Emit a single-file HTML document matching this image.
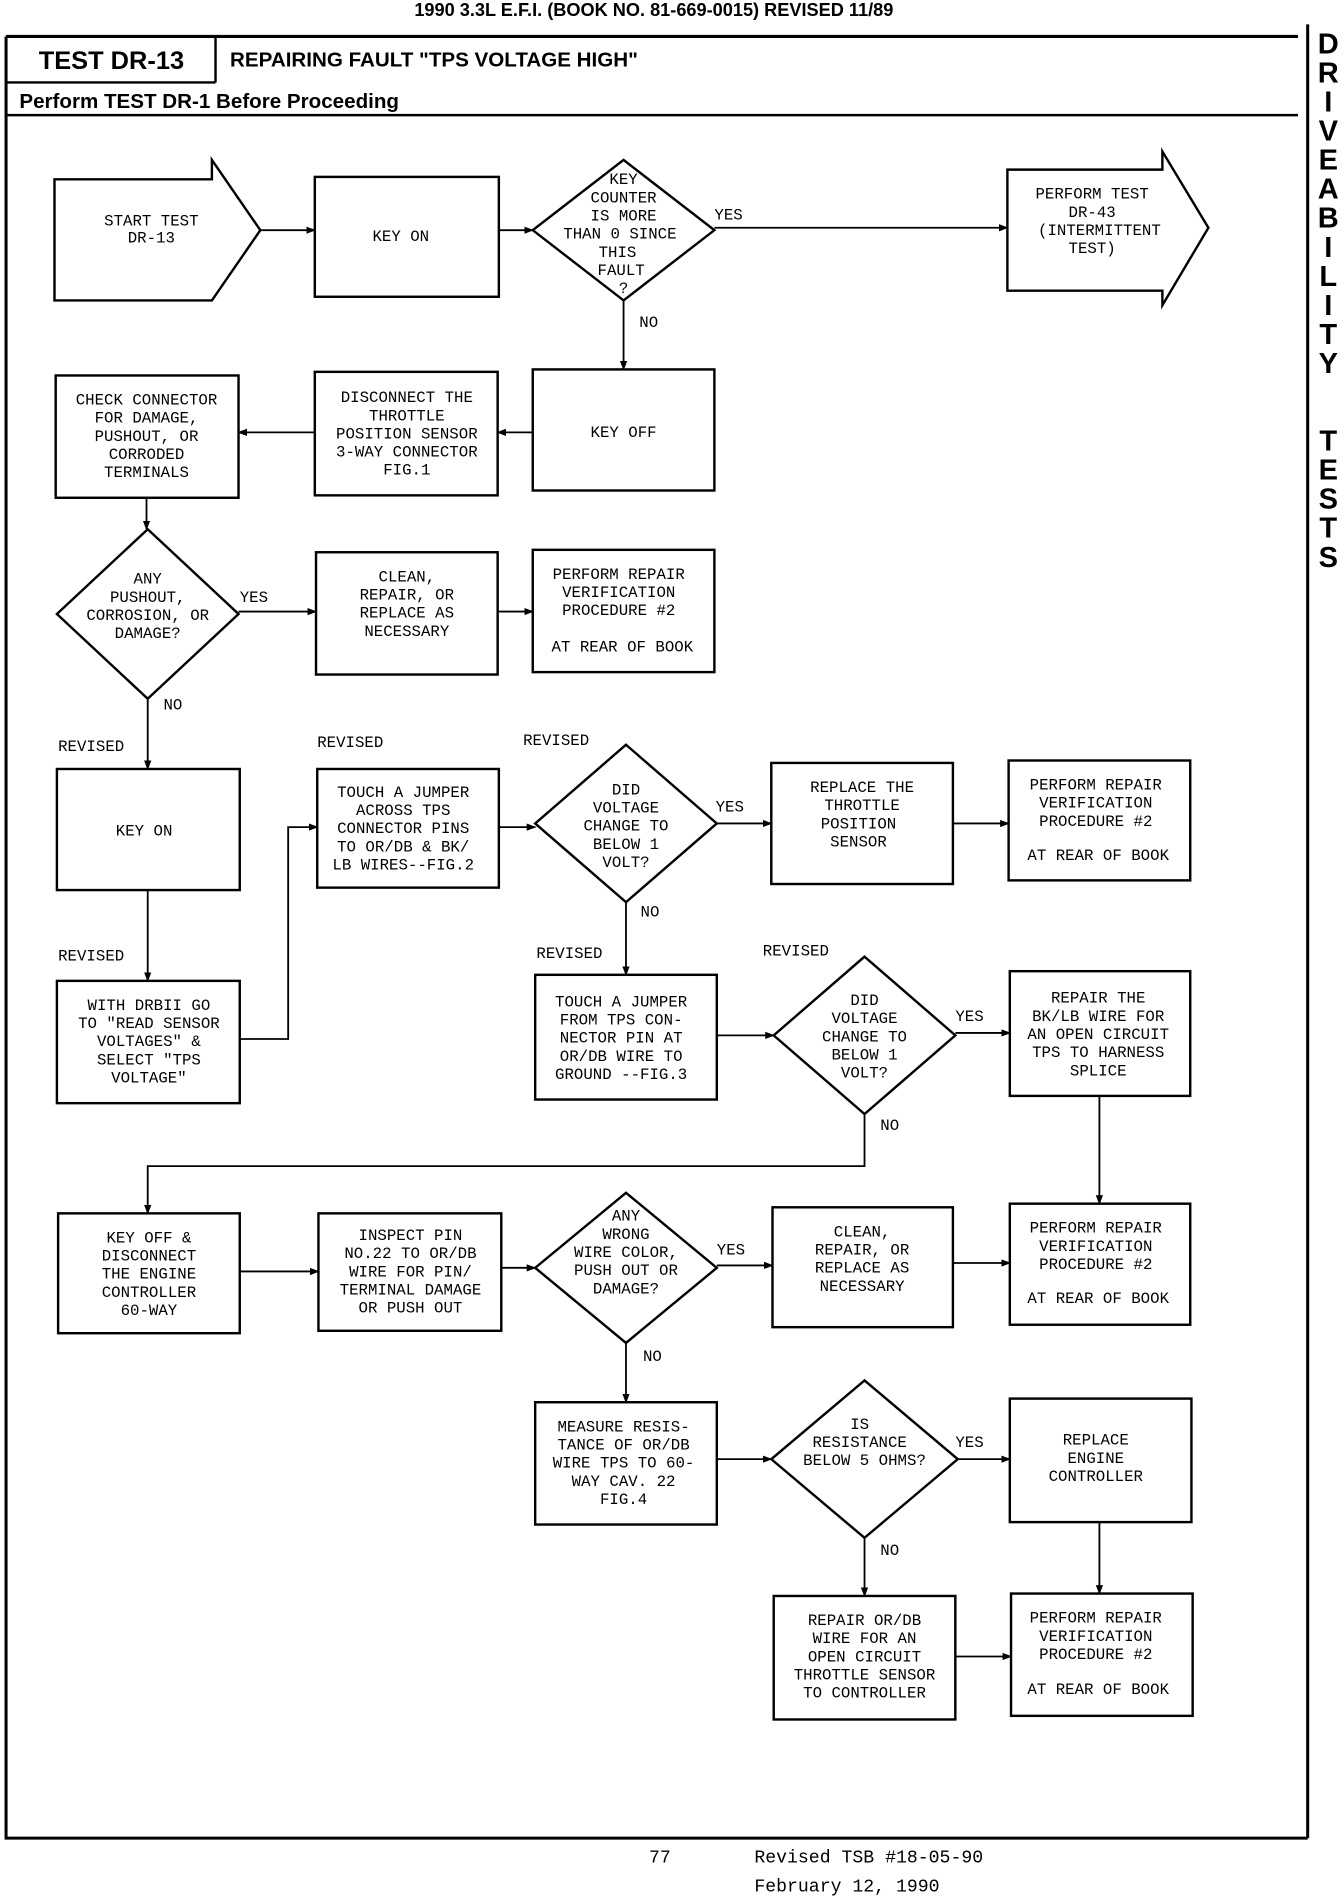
<!DOCTYPE html>
<html><head><meta charset="utf-8"><style>
html,body{margin:0;padding:0;background:#fff;}
svg{display:block;}
.n{font-family:"Liberation Mono",monospace;font-size:13px;fill:#000;}
.h{font-family:"Liberation Sans",sans-serif;fill:#000;}
</style></head><body>
<svg width="1344" height="1900" viewBox="0 0 1110 1569" xmlns="http://www.w3.org/2000/svg">
<defs><marker id="a" markerWidth="8" markerHeight="8" refX="7" refY="4" orient="auto" markerUnits="userSpaceOnUse"><path d="M0,1 L8,4 L0,7 Z" fill="#000"/></marker></defs>
<g fill="none" stroke="#000" stroke-width="2">
<path d="M5,30 H1072 M5,30 V1518 H1080 M1080,20 V1518" stroke-width="2.5"/>
<path d="M178,30 V68 M5,68 H178 M5,95 H1072"/>
</g>
<text class="h" x="540" y="13" font-size="15" text-anchor="middle" font-weight="bold">1990 3.3L E.F.I.  (BOOK NO. 81-669-0015)  REVISED 11/89</text>
<text class="h" x="92" y="57" font-size="21" text-anchor="middle" font-weight="bold">TEST DR-13</text>
<text class="h" x="190" y="55" font-size="17" font-weight="bold">REPAIRING FAULT "TPS VOLTAGE HIGH"</text>
<text class="h" x="16" y="89" font-size="17" font-weight="bold">Perform TEST DR-1 Before Proceeding</text>
<g class="h" font-size="24" font-weight="bold" text-anchor="middle">
<text x="1097" y="44">D</text><text x="1097" y="68">R</text><text x="1097" y="92">I</text><text x="1097" y="116">V</text><text x="1097" y="140">E</text><text x="1097" y="164">A</text><text x="1097" y="188">B</text><text x="1097" y="212">I</text><text x="1097" y="236">L</text><text x="1097" y="260">I</text><text x="1097" y="284">T</text><text x="1097" y="308">Y</text>
<text x="1097" y="372">T</text><text x="1097" y="396">E</text><text x="1097" y="420">S</text><text x="1097" y="444">T</text><text x="1097" y="468">S</text>
</g>
<g fill="none" stroke="#000" stroke-width="2">
<path d="M45,148 H175 V132 L215,190 L175,248 H45 Z"/>
<path d="M832,140 H960 V125 L998,188 L960,252 V240 H832 Z"/>
<rect x="260" y="146" width="152" height="99"/>
<path d="M515,132 L590,190 L515,248 L440,190 Z"/>
<rect x="440" y="305" width="150" height="100"/>
<rect x="260" y="307" width="151" height="102"/>
<rect x="46" y="310" width="151" height="101"/>
<path d="M122,437 L197,507 L122,577 L47,507 Z"/>
<rect x="261" y="456" width="150" height="101"/>
<rect x="440" y="454" width="150" height="101"/>
<rect x="47" y="635" width="151" height="100"/>
<rect x="47" y="810" width="151" height="101"/>
<rect x="262" y="635" width="150" height="98"/>
<path d="M517,615 L592,680 L517,745 L442,680 Z"/>
<rect x="637" y="630" width="150" height="100"/>
<rect x="833" y="628" width="150" height="99"/>
<rect x="442" y="805" width="150" height="103"/>
<path d="M714,790 L789,855 L714,920 L639,855 Z"/>
<rect x="834" y="802" width="149" height="103"/>
<rect x="48" y="1002" width="150" height="99"/>
<rect x="263" y="1002" width="151" height="97"/>
<path d="M517,985 L592,1047 L517,1109 L442,1047 Z"/>
<rect x="638" y="997" width="149" height="99"/>
<rect x="834" y="994" width="149" height="100"/>
<rect x="442" y="1158" width="150" height="101"/>
<path d="M714,1140 L791,1205 L714,1270 L637,1205 Z"/>
<rect x="834" y="1155" width="150" height="102"/>
<rect x="639" y="1318" width="150" height="102"/>
<rect x="835" y="1316" width="150" height="101"/>
</g>
<g fill="none" stroke="#000" stroke-width="1.5" marker-end="url(#a)">
<path d="M215,190 H260"/><path d="M412,190 H440"/><path d="M590,188 H832"/>
<path d="M515,248 V305"/><path d="M440,357 H411"/><path d="M260,357 H197"/>
<path d="M121,411 V437"/><path d="M197,505 H261"/><path d="M411,505 H440"/>
<path d="M122,577 V635"/><path d="M122,735 V810"/><path d="M198,858 H238 V683 H262"/>
<path d="M412,683 H442"/><path d="M592,680 H637"/><path d="M787,680 H833"/>
<path d="M517,745 V805"/><path d="M592,855 H639"/><path d="M789,853 H834"/>
<path d="M908,905 V994"/><path d="M714,920 V963 H122 V1002"/>
<path d="M198,1050 H263"/><path d="M414,1047 H442"/><path d="M592,1045 H638"/><path d="M787,1043 H834"/>
<path d="M517,1109 V1158"/><path d="M592,1205 H637"/><path d="M791,1205 H834"/>
<path d="M908,1257 V1316"/><path d="M714,1270 V1318"/><path d="M789,1368 H835"/>
</g>
<g class="n" text-anchor="middle">
<text x="125" y="186">START TEST</text><text x="125" y="200">DR-13</text>
<text x="331" y="199">KEY ON</text>
<text x="515" y="152">KEY</text><text x="515" y="167">COUNTER</text><text x="515" y="182">IS MORE</text><text x="512" y="197">THAN 0 SINCE</text><text x="510" y="212">THIS</text><text x="513" y="227">FAULT</text><text x="515" y="242">?</text>
<text x="902" y="164">PERFORM TEST</text><text x="902" y="179">DR-43</text><text x="908" y="194">(INTERMITTENT</text><text x="902" y="209">TEST)</text>
<text x="515" y="361">KEY OFF</text>
<text x="336" y="332">DISCONNECT THE</text><text x="336" y="347">THROTTLE</text><text x="336" y="362">POSITION SENSOR</text><text x="336" y="377">3-WAY CONNECTOR</text><text x="336" y="392">FIG.1</text>
<text x="121" y="334">CHECK CONNECTOR</text><text x="121" y="349">FOR DAMAGE,</text><text x="121" y="364">PUSHOUT, OR</text><text x="121" y="379">CORRODED</text><text x="121" y="394">TERMINALS</text>
<text x="122" y="482">ANY</text><text x="122" y="497">PUSHOUT,</text><text x="122" y="512">CORROSION, OR</text><text x="122" y="527">DAMAGE?</text>
<text x="336" y="480">CLEAN,</text><text x="336" y="495">REPAIR, OR</text><text x="336" y="510">REPLACE AS</text><text x="336" y="525">NECESSARY</text>
<text x="511" y="478">PERFORM REPAIR</text><text x="511" y="493">VERIFICATION</text><text x="511" y="508">PROCEDURE #2</text><text x="514" y="538">AT REAR OF BOOK</text>
<text x="119" y="690">KEY ON</text>
<text x="123" y="834">WITH DRBII GO</text><text x="123" y="849">TO "READ SENSOR</text><text x="123" y="864">VOLTAGES" &amp;</text><text x="123" y="879">SELECT "TPS</text><text x="123" y="894">VOLTAGE"</text>
<text x="333" y="658">TOUCH A JUMPER</text><text x="333" y="673">ACROSS TPS</text><text x="333" y="688">CONNECTOR PINS</text><text x="333" y="703">TO OR/DB &amp; BK/</text><text x="333" y="718">LB WIRES--FIG.2</text>
<text x="517" y="656">DID</text><text x="517" y="671">VOLTAGE</text><text x="517" y="686">CHANGE TO</text><text x="517" y="701">BELOW 1</text><text x="517" y="716">VOLT?</text>
<text x="712" y="654">REPLACE THE</text><text x="712" y="669">THROTTLE</text><text x="709" y="684">POSITION</text><text x="709" y="699">SENSOR</text>
<text x="905" y="652">PERFORM REPAIR</text><text x="905" y="667">VERIFICATION</text><text x="905" y="682">PROCEDURE #2</text><text x="907" y="710">AT REAR OF BOOK</text>
<text x="513" y="831">TOUCH A JUMPER</text><text x="513" y="846">FROM TPS CON-</text><text x="513" y="861">NECTOR PIN AT</text><text x="513" y="876">OR/DB WIRE TO</text><text x="513" y="891">GROUND --FIG.3</text>
<text x="714" y="830">DID</text><text x="714" y="845">VOLTAGE</text><text x="714" y="860">CHANGE TO</text><text x="714" y="875">BELOW 1</text><text x="714" y="890">VOLT?</text>
<text x="907" y="828">REPAIR THE</text><text x="907" y="843">BK/LB WIRE FOR</text><text x="907" y="858">AN OPEN CIRCUIT</text><text x="907" y="873">TPS TO HARNESS</text><text x="907" y="888">SPLICE</text>
<text x="123" y="1026">KEY OFF &amp;</text><text x="123" y="1041">DISCONNECT</text><text x="123" y="1056">THE ENGINE</text><text x="123" y="1071">CONTROLLER</text><text x="123" y="1086">60-WAY</text>
<text x="339" y="1024">INSPECT PIN</text><text x="339" y="1039">NO.22 TO OR/DB</text><text x="339" y="1054">WIRE FOR PIN/</text><text x="339" y="1069">TERMINAL DAMAGE</text><text x="339" y="1084">OR PUSH OUT</text>
<text x="517" y="1008">ANY</text><text x="517" y="1023">WRONG</text><text x="517" y="1038">WIRE COLOR,</text><text x="517" y="1053">PUSH OUT OR</text><text x="517" y="1068">DAMAGE?</text>
<text x="712" y="1021">CLEAN,</text><text x="712" y="1036">REPAIR, OR</text><text x="712" y="1051">REPLACE AS</text><text x="712" y="1066">NECESSARY</text>
<text x="905" y="1018">PERFORM REPAIR</text><text x="905" y="1033">VERIFICATION</text><text x="905" y="1048">PROCEDURE #2</text><text x="907" y="1076">AT REAR OF BOOK</text>
<text x="515" y="1182">MEASURE RESIS-</text><text x="515" y="1197">TANCE OF OR/DB</text><text x="515" y="1212">WIRE TPS TO 60-</text><text x="515" y="1227">WAY CAV. 22</text><text x="515" y="1242">FIG.4</text>
<text x="710" y="1180">IS</text><text x="710" y="1195">RESISTANCE</text><text x="714" y="1210">BELOW 5 OHMS?</text>
<text x="905" y="1193">REPLACE</text><text x="905" y="1208">ENGINE</text><text x="905" y="1223">CONTROLLER</text>
<text x="714" y="1342">REPAIR OR/DB</text><text x="714" y="1357">WIRE FOR AN</text><text x="714" y="1372">OPEN CIRCUIT</text><text x="714" y="1387">THROTTLE SENSOR</text><text x="714" y="1402">TO CONTROLLER</text>
<text x="905" y="1340">PERFORM REPAIR</text><text x="905" y="1355">VERIFICATION</text><text x="905" y="1370">PROCEDURE #2</text><text x="907" y="1399">AT REAR OF BOOK</text>
</g>
<g class="n">
<text x="590" y="181">YES</text><text x="528" y="270">NO</text>
<text x="198" y="497">YES</text><text x="135" y="586">NO</text>
<text x="48" y="620">REVISED</text><text x="262" y="617">REVISED</text><text x="432" y="615">REVISED</text>
<text x="591" y="670">YES</text><text x="529" y="757">NO</text>
<text x="48" y="793">REVISED</text><text x="443" y="791">REVISED</text><text x="630" y="789">REVISED</text>
<text x="789" y="843">YES</text><text x="727" y="933">NO</text>
<text x="592" y="1036">YES</text><text x="531" y="1124">NO</text>
<text x="789" y="1195">YES</text><text x="727" y="1284">NO</text>
<text x="536" y="1538" font-size="15">77</text>
<text x="623" y="1538" font-size="15">Revised TSB #18-05-90</text>
<text x="623" y="1562" font-size="15">February 12, 1990</text>
</g>
</svg>
</body></html>
